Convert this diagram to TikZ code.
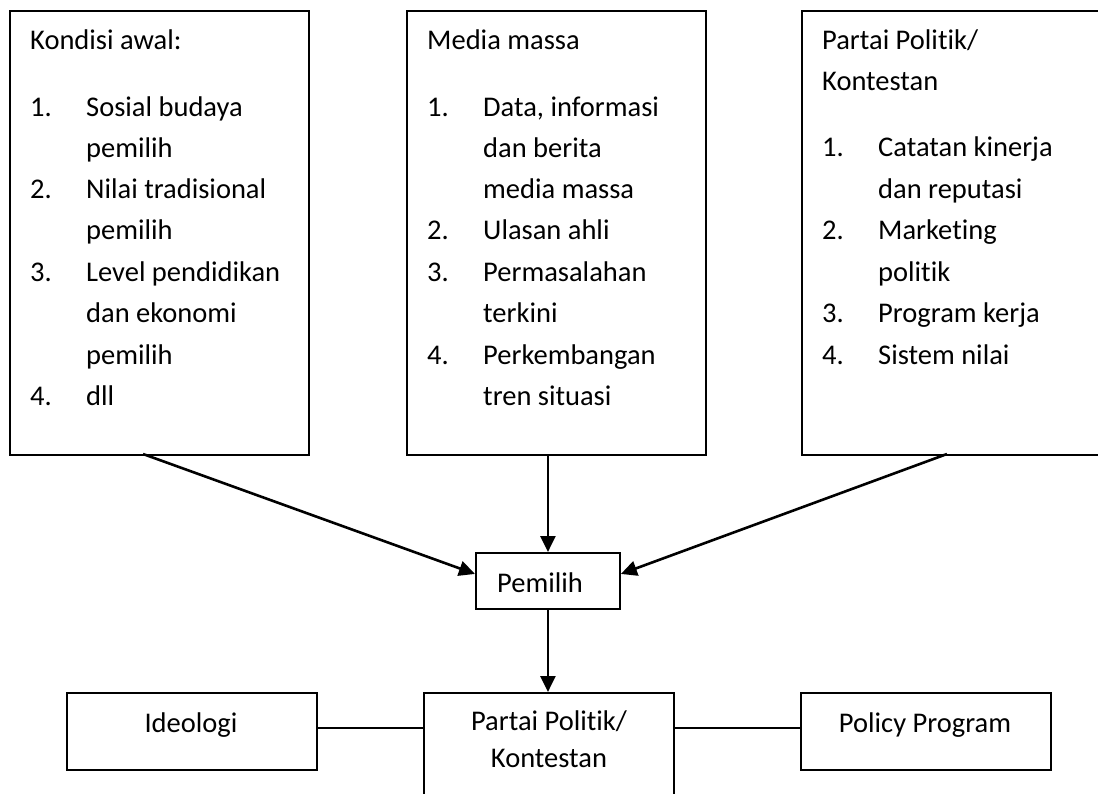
\documentclass[tikz,border=0pt]{standalone}
\usepackage{fontspec}
\setmainfont{Carlito}[Ligatures=NoCommon, Contextuals=NoAlternate]
\usetikzlibrary{arrows.meta}
\begin{document}
\begin{tikzpicture}[x=1pt,y=-1pt,
  box/.style={draw, line width=1.9pt, inner sep=0pt, anchor=north west},
  txt/.style={anchor=base west, inner sep=0pt, font=\fontsize{28.5}{34}\selectfont},
  ctxt/.style={anchor=base, inner sep=0pt, font=\fontsize{28.5}{34}\selectfont},
  arr/.style={line width=2.6pt, -{Triangle[length=16pt,width=15pt]}},
  link/.style={line width=1.5pt}]
\useasboundingbox (0,0) rectangle (1098,794);
\clip (0,0) rectangle (1098,794);
% top boxes
\node[box, minimum width=299pt, minimum height=444pt] (kondisi) at (9,10) {};
\node[box, minimum width=299pt, minimum height=444pt] (media) at (406,10) {};
\node[box, minimum width=299pt, minimum height=444pt] (partai) at (801,10) {};
% box 1 text
\node[txt] (k0) at (30,50) {Kondisi awal:};
\node[txt] (k1n) at (30,117) {1.};
\node[txt] (k1) at (86,117) {Sosial budaya};
\node[txt] (k1b) at (86,158) {pemilih};
\node[txt] (k2n) at (30,199) {2.};
\node[txt] (k2) at (86,199) {Nilai tradisional};
\node[txt] (k2b) at (86,240) {pemilih};
\node[txt] (k3n) at (30,282) {3.};
\node[txt] (k3) at (86,282) {Level pendidikan};
\node[txt] (k3b) at (86,323) {dan ekonomi};
\node[txt] (k3c) at (86,364) {pemilih};
\node[txt] (k4n) at (30,405) {4.};
\node[txt] (k4) at (86,405) {dll};
% box 2 text
\node[txt] (m0) at (427,50) {Media massa};
\node[txt] (m1n) at (427,117) {1.};
\node[txt] (m1) at (483,117) {Data, informasi};
\node[txt] (m1b) at (483,158) {dan berita};
\node[txt] (m1c) at (483,199) {media massa};
\node[txt] (m2n) at (427,240) {2.};
\node[txt] (m2) at (483,240) {Ulasan ahli};
\node[txt] (m3n) at (427,282) {3.};
\node[txt] (m3) at (483,282) {Permasalahan};
\node[txt] (m3b) at (483,323) {terkini};
\node[txt] (m4n) at (427,364) {4.};
\node[txt] (m4) at (483,364) {Perkembangan};
\node[txt] (m4b) at (483,405) {tren situasi};
% box 3 text
\node[txt] (p0) at (822,50) {Partai Politik/};
\node[txt] (p0b) at (822,91) {Kontestan};
\node[txt] (p1n) at (822,157) {1.};
\node[txt] (p1) at (878,157) {Catatan kinerja};
\node[txt] (p1b) at (878,199) {dan reputasi};
\node[txt] (p2n) at (822,240) {2.};
\node[txt] (p2) at (878,240) {Marketing};
\node[txt] (p2b) at (878,282) {politik};
\node[txt] (p3n) at (822,323) {3.};
\node[txt] (p3) at (878,323) {Program kerja};
\node[txt] (p4n) at (822,364) {4.};
\node[txt] (p4) at (878,364) {Sistem nilai};
% Pemilih
\node[box, minimum width=144pt, minimum height=56pt] (pemilih) at (475,552) {};
\node[ctxt] (pemlbl) at (540,592) {Pemilih};
% bottom row
\node[box, line width=2pt, minimum width=250pt, minimum height=77pt] (ideo) at (66,692) {};
\node[box, line width=2pt, minimum width=250pt, minimum height=150pt] (pk) at (423,692) {};
\node[box, line width=2pt, minimum width=250pt, minimum height=77pt] (policy) at (800,692) {};
\node[ctxt] (ideolbl) at (191,732) {Ideologi};
\node[ctxt] (pklbl1) at (549,730) {Partai Politik/};
\node[ctxt] (pklbl2) at (549,767) {Kontestan};
\node[ctxt] (pollbl) at (925,732) {Policy Program};
% connectors
\coordinate (kout) at (143,454);
\coordinate (pout) at (947,454);
\draw[arr] (kout) -- ([yshift=7pt]pemilih.west);
\draw[arr] (pemilih.north |- media.south) -- (pemilih.north);
\draw[arr] (pout) -- ([yshift=7pt]pemilih.east);
\draw[arr] (pemilih.south) -- (pemilih.south |- pk.north);
\draw[link] ([yshift=3.5pt]ideo.east) -- ([yshift=3.5pt]ideo.east -| pk.west);
\draw[link] ([yshift=3.5pt]policy.west) -- ([yshift=3.5pt]policy.west -| pk.east);
\end{tikzpicture}
\end{document}
